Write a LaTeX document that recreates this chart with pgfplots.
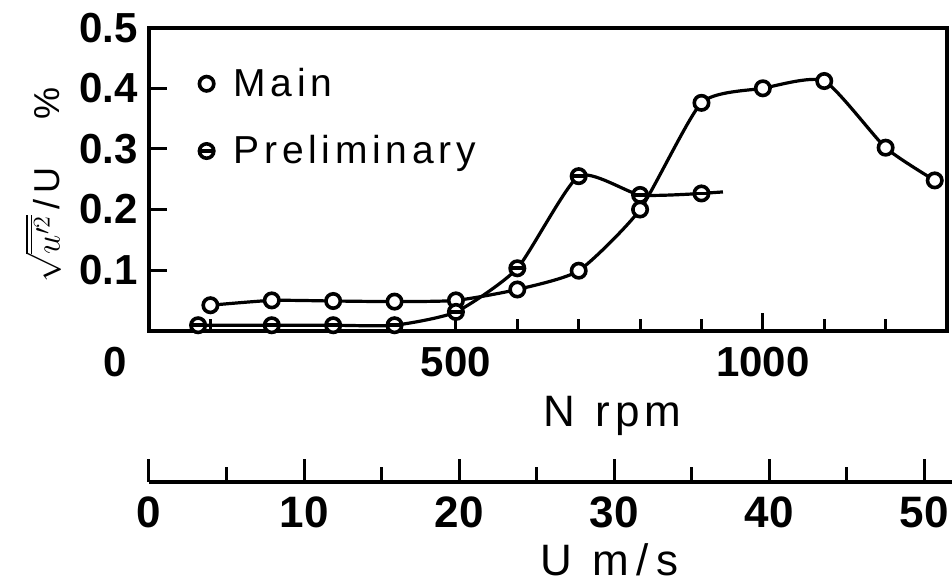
\documentclass[border=0pt]{standalone}
\usepackage{fontspec}
\setmainfont{Liberation Sans}
\newfontfamily\spaced[LetterSpace=12]{Liberation Sans}
\usepackage{pgfplots}
\pgfplotsset{compat=1.18}

% open circle with a bar through it
\pgfdeclareplotmark{ocircbar}{%
  \pgfpathcircle{\pgfpointorigin}{\pgfplotmarksize}%
  \pgfusepathqfillstroke
  \pgfpathmoveto{\pgfpoint{-\pgfplotmarksize}{0pt}}%
  \pgfpathlineto{\pgfpoint{\pgfplotmarksize}{0pt}}%
  \pgfusepathqstroke}

\begin{document}
\begin{tikzpicture}
\begin{axis}[
    scale only axis,
    width=399pt, height=151.5pt,
    xmin=0, xmax=1300, ymin=0, ymax=0.5,
    axis line style={line width=2pt},
    tick pos=left, tick align=inside,
    xtick={500,1000}, xticklabels={500,1000},
    minor xtick={100,200,300,400,600,700,800,900,1100,1200},
    ytick={0.1,0.2,0.3,0.4,0.5}, yticklabels={0.1,0.2,0.3,0.4,0.5},
    major tick length=9pt, minor tick length=6pt,
    tick style={black, line width=1.5pt},
    tick label style={font=\fontsize{21}{21}\selectfont\bfseries, inner sep=0pt},
    xticklabel style={anchor=base, yshift=-23pt},
    yticklabel style={anchor=east, xshift=-5.5pt},
    legend cell align=left,
    legend style={draw=none, fill=none, inner sep=0pt,
        at={(axis cs:81.5,0.352)}, anchor=west,
        nodes={inner sep=0pt},
        row sep=18pt,
        font=\spaced\fontsize{19.5}{19.5}\selectfont,
        /tikz/every odd column/.style={column sep=10pt}},
    legend image code/.code={\draw[#1] plot[only marks] coordinates {(0pt,0pt)};},
]
\addplot[black, line width=1.6pt, smooth, tension=0.35, mark=*, mark size=3.6pt,
    mark options={fill=white, line width=1.8pt, solid}]
coordinates {
    (100,0.042) (200,0.050) (300,0.049) (400,0.048) (500,0.050)
    (600,0.068) (700,0.099) (800,0.200) (900,0.376) (1000,0.400)
    (1100,0.412) (1200,0.302) (1280,0.248)
};
\addlegendentry{Main}

\addplot[black, line width=1.6pt, smooth, tension=0.35, mark=ocircbar, mark size=3.6pt,
    mark options={fill=white, line width=1.8pt, solid}]
coordinates {
    (80,0.009) (200,0.009) (300,0.009) (400,0.009) (500,0.031)
    (600,0.103) (700,0.255) (800,0.224) (900,0.2265)
};
\addlegendentry{Preliminary}

\addplot[black, line width=1.6pt, forget plot]
coordinates {(900,0.2265) (935,0.229)};
\end{axis}

% velocity scale
\begin{axis}[
    at={(0pt,-75.65pt)},
    scale only axis,
    width=401.5pt, height=10pt,
    xmin=0, xmax=51.8, ymin=0, ymax=1,
    axis x line*=bottom, axis y line=none,
    axis line style={line width=2pt},
    tick align=inside,
    xtick={0,10,20,30,40,50}, xticklabels={0,10,20,30,40,50},
    minor xtick={5,15,25,35,45},
    major tick length=11.5pt, minor tick length=7.5pt,
    tick style={black, line width=1.5pt},
    tick label style={font=\fontsize{22}{22}\selectfont\bfseries, inner sep=0pt},
    xticklabel style={anchor=base, yshift=-23pt},
]
\end{axis}

\node[anchor=base, inner sep=0pt, font=\fontsize{21}{21}\selectfont\bfseries] at (-17pt,-23pt) {0};
\node[rotate=90, inner sep=0pt, font=\spaced\fontsize{18}{18}\selectfont] at (-53pt,72.8pt)
    {$\sqrt{\overline{u'^{2}}}$\,/\,U\hspace{24pt}\%};
\node[anchor=base, inner sep=0pt, font=\spaced\fontsize{22}{22}\selectfont] at (231.75pt,-48.15pt)
    {N\hspace{10pt}rpm};
\node[anchor=base, inner sep=0pt, font=\spaced\fontsize{22}{22}\selectfont] at (230.25pt,-122.5pt)
    {U\hspace{10pt}m\,/\,s};

\pgfresetboundingbox
\path[use as bounding box] (-74.5pt,-125.65pt) rectangle (401.5pt,165.35pt);
\end{tikzpicture}
\end{document}
